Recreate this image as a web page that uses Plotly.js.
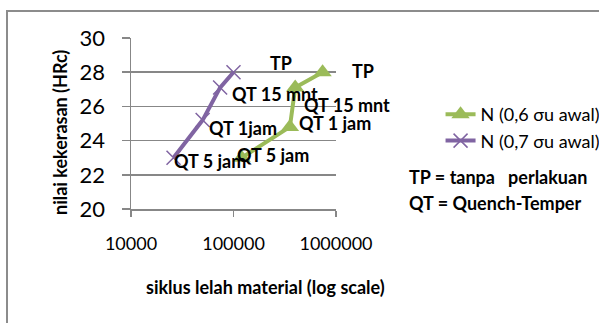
<!DOCTYPE html>
<html>
<head>
<meta charset="utf-8">
<script src="https://cdn.plot.ly/plotly-3.0.1.min.js"></script>
<style>
  html, body { margin:0; padding:0; background:#fff; }
  #wrap { position:relative; width:599px; height:323px; overflow:hidden; }
  #frame { position:absolute; left:6px; top:10px; width:600px; height:330px;
           border-left:2px solid #8c8c8c; border-top:2px solid #8c8c8c; box-sizing:border-box; }
  #chart { position:absolute; left:0; top:0; width:640px; height:323px; }
</style>
</head>
<body>
<div id="wrap">
  <div id="frame"></div>
  <div id="chart"></div>
</div>
<script>
// ---- data ----
const seriesGreenName = "N (0,6 σu awal)";
const greenCycles = [120000, 355000, 400000, 740000];
const greenHardness = [23, 24.8, 27.1, 28];
const greenLabels = ["QT 5 jam", "QT 1 jam", "QT 15 mnt", "TP"];

const seriesPurpleName = "N (0,7 σu awal)";
const purpleCycles = [26000, 50000, 74000, 100000];
const purpleHardness = [23, 25.2, 27.1, 28];
const purpleLabels = ["QT 5 jam", "QT 1jam", "QT 15 mnt", "TP"];

const xTickVals = [10000, 100000, 1000000];
const xTickText = ["10000", "100000", "1000000"];
const xTitle = "siklus lelah material (log scale)";
const yTitle = "nilai kekerasan (HRc)";
const noteLines = ["TP = tanpa   perlakuan", "QT = Quench-Temper"];

// ---- styling ----
const green = "#9BBB59", purple = "#8064A2", grid = "#878787";
const FAM = "Lato, 'Open Sans', sans-serif";
const labelFont = {family: FAM, size: 18, color: "#000", weight: "bold"};

const traces = [
  {x: greenCycles, y: greenHardness, name: seriesGreenName, type: "scatter", mode: "lines+markers",
   legendgroup: "g", line: {color: green, width: 4},
   marker: {symbol: "triangle-up", size: 16, color: green}},
  {x: purpleCycles, y: purpleHardness, name: seriesPurpleName, type: "scatter", mode: "lines+markers",
   legendgroup: "p", line: {color: purple, width: 4},
   marker: {symbol: "x-thin", size: 14, line: {color: purple, width: 1.5}, color: purple}}
];

// label offsets (px) relative to each point (positive yshift = up)
const greenShift = [[-7, 3], [7, 4], [7, -17], [27, 1]];
const purpleShift = [[-2, -3], [4, -8], [10, -6], [34, 9]];
const annotations = [];
function addLabels(xs, ys, labels, shifts) {
  for (let i = 0; i < xs.length; i++) {
    annotations.push({x: Math.log10(xs[i]), y: ys[i], xref: "x", yref: "y", text: labels[i],
      showarrow: false, xanchor: "left", yanchor: "middle",
      xshift: shifts[i][0], yshift: shifts[i][1], font: labelFont});
  }
}
addLabels(purpleCycles, purpleHardness, purpleLabels, purpleShift);
addLabels(greenCycles, greenHardness, greenLabels, greenShift);
noteLines.forEach((t, i) => annotations.push({
  xref: "paper", yref: "paper", x: (407 - 131) / 205, y: 1 - ((177 + 26 * i) - 38) / 171,
  text: t, showarrow: false, xanchor: "left", yanchor: "middle", font: labelFont}));
annotations.push({xref: "paper", yref: "paper", x: (265 - 131) / 205, y: 1 - (287 - 38) / 171,
  text: xTitle, showarrow: false, xanchor: "center", yanchor: "middle",
  font: {family: FAM, size: 18, weight: "bold", color: "#000"}});
annotations.push({xref: "paper", yref: "paper", x: (60 - 131) / 205, y: 1 - (133 - 38) / 171,
  text: yTitle, showarrow: false, xanchor: "center", yanchor: "middle", textangle: -90,
  font: {family: FAM, size: 18, weight: "bold", color: "#000"}});

// figure drawn slightly wider than the window so the legend has room; the extra is clipped
const layout = {
  width: 640, height: 323,
  margin: {l: 131, r: 304, t: 38, b: 114},
  paper_bgcolor: "rgba(0,0,0,0)", plot_bgcolor: "rgba(0,0,0,0)",
  font: {family: FAM, color: "#000"},
  showlegend: true,
  legend: {x: 1.51, y: 1 - (96 - 38) / 171, xanchor: "left", yanchor: "top",
           font: {size: 18, family: FAM, color: "#000"},
           traceorder: "grouped", tracegroupgap: 0, bgcolor: "rgba(0,0,0,0)"},
  xaxis: {type: "log", range: [4, 6], tickvals: xTickVals, ticktext: xTickText,
          showgrid: false, zeroline: false, showline: true, linecolor: grid, linewidth: 1.5,
          ticks: "outside", ticklen: 6, tickcolor: grid, tickwidth: 1.5,
          ticklabelstandoff: 12, tickfont: {size: 18}, fixedrange: true},
  yaxis: {range: [20, 30], dtick: 2, tick0: 20, showgrid: true, gridcolor: grid, gridwidth: 1.5,
          zeroline: false, showline: true, linecolor: grid, linewidth: 1.5,
          ticks: "outside", ticklen: 8, tickcolor: grid, tickwidth: 1.5,
          ticklabelstandoff: 12, tickfont: {size: 22}, fixedrange: true},
  annotations: annotations
};

Plotly.newPlot("chart", traces, layout, {displayModeBar: false, staticPlot: true});
</script>
</body>
</html>
